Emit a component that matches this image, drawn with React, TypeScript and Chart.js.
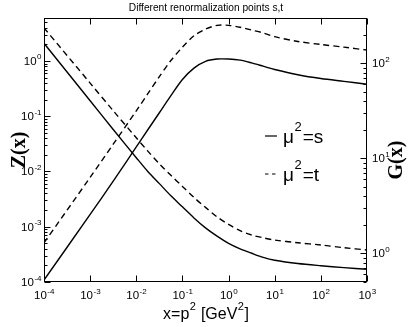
import React, { useEffect, useRef } from "react";
import { Chart, registerables } from "chart.js";
Chart.register(...registerables);

// x = p^2 [GeV^2]
const xValues = [1e-4, 1e-3, 0.003162, 0.01, 0.01778, 0.03162, 0.05623, 0.1, 0.1778, 0.3162, 0.5623, 1, 1.778, 3.162, 5.623, 10, 31.62, 100, 316.2, 1000];
// Z(x), mu^2 = s (solid) and mu^2 = t (dashed)
const zS = [2.09, 0.1905, 0.0575, 0.01778, 0.01, 0.00603, 0.00363, 0.00229, 0.001445, 0.000955, 0.000676, 0.000501, 0.000398, 0.000331, 0.000279, 0.000248, 0.000216, 0.000197, 0.000182, 0.00017];
const zT = [3.98, 0.398, 0.126, 0.0407, 0.0234, 0.0138, 0.00851, 0.00537, 0.00339, 0.00224, 0.00151, 0.0011, 0.000851, 0.000708, 0.000631, 0.000575, 0.000513, 0.000468, 0.000417, 0.00038];
// G(x), mu^2 = s (solid) and mu^2 = t (dashed)
const gS = [0.525, 2.57, 5.75, 13.2, 20.0, 30.2, 45.7, 67.6, 89.1, 105, 111, 111, 108, 101, 93.3, 86.1, 75.9, 69.2, 64.6, 60.3];
const gT = [1.29, 6.31, 14.1, 31.6, 47.9, 72.4, 107, 148, 195, 229, 251, 251, 240, 224, 209, 191, 170, 158, 148, 138];

const xTickExps = [-4, -3, -2, -1, 0, 1, 2, 3];
const zTickExps = [-4, -3, -2, -1, 0];
const gTickExps = [0, 1, 2];
const legendNames = ["s", "t"];
const titleText = "Different renormalization points s,t";
const xTitle = ["x=p", "2", " [GeV", "2", "]"];
const zTitle = "Z(x)";
const gTitle = "G(x)";

const SANS = '"Liberation Sans", Arial, sans-serif';
const SERIF = '"Liberation Serif", "Times New Roman", serif';

function drawPow(ctx: CanvasRenderingContext2D, exp: string, x: number, y: number, align: string) {
  const bf = `11.5px ${SANS}`, ef = `8px ${SANS}`;
  ctx.font = bf;
  const bw = ctx.measureText("10").width;
  ctx.font = ef;
  const ew = ctx.measureText(exp).width;
  let sx = x;
  if (align === "center") sx = x - (bw + ew) / 2;
  else if (align === "right") sx = x - bw - ew - 0.5;
  ctx.textAlign = "left";
  ctx.textBaseline = "alphabetic";
  ctx.font = bf;
  ctx.fillText("10", sx, y);
  ctx.font = ef;
  ctx.fillText(exp, sx + bw + 0.5, y - 5.5);
}

const overlay = {
  id: "overlay",
  afterDraw(chart: any) {
    const ctx: CanvasRenderingContext2D = chart.ctx;
    const { left, right, top, bottom } = chart.chartArea;
    const xs = chart.scales.x, ys = chart.scales.y, gs = chart.scales.y2;
    ctx.save();
    ctx.strokeStyle = "#000";
    ctx.fillStyle = "#000";
    ctx.lineWidth = 1;
    const L = Math.round(left) + 0.5, R = Math.round(right) - 0.5;
    const T = Math.round(top) + 0.5, B = Math.round(bottom) - 0.5;
    ctx.strokeRect(L, T, R - L, B - T);

    ctx.beginPath();
    for (const e of xTickExps) {
      const px = Math.round(xs.getPixelForValue(Math.pow(10, e))) + 0.5;
      ctx.moveTo(px, B); ctx.lineTo(px, B - 6);
      ctx.moveTo(px, T); ctx.lineTo(px, T + 6);
    }
    for (let d = -4; d <= 0; d++) {
      for (let m = 1; m <= 9; m++) {
        const v = m * Math.pow(10, d);
        if (v < ys.min * 0.999 || v > ys.max * 1.001) continue;
        const py = Math.round(ys.getPixelForValue(v)) + 0.5;
        const len = m === 1 ? 6 : 3;
        ctx.moveTo(L, py); ctx.lineTo(L + len, py);
      }
    }
    for (let d = -1; d <= 2; d++) {
      for (let m = 1; m <= 9; m++) {
        const v = m * Math.pow(10, d);
        if (v < gs.min * 0.999 || v > gs.max * 1.001) continue;
        const py = Math.round(gs.getPixelForValue(v)) + 0.5;
        const len = m === 1 ? 6 : 3;
        ctx.moveTo(R, py); ctx.lineTo(R - len, py);
      }
    }
    ctx.stroke();

    for (const e of xTickExps) {
      const px = xs.getPixelForValue(Math.pow(10, e));
      drawPow(ctx, String(e), px, bottom + 17, "center");
    }
    for (const e of zTickExps) {
      const py = ys.getPixelForValue(Math.pow(10, e));
      drawPow(ctx, String(e), left - 2.5, py + 4, "right");
    }
    for (const e of gTickExps) {
      const py = gs.getPixelForValue(Math.pow(10, e));
      drawPow(ctx, String(e), right + 5, py + 4, "left");
    }

    // title
    ctx.font = `10.2px ${SANS}`;
    ctx.textAlign = "center";
    ctx.textBaseline = "alphabetic";
    ctx.fillText(titleText, 206, 11);

    // x axis title
    const bigF = `16px ${SANS}`, supF = `11px ${SANS}`;
    let total = 0;
    const widths: number[] = [];
    xTitle.forEach((s, i) => {
      ctx.font = i % 2 === 1 ? supF : bigF;
      const w = ctx.measureText(s).width;
      widths.push(w);
      total += w + (i % 2 === 1 ? 1 : 0);
    });
    let cx = 206 - total / 2;
    ctx.textAlign = "left";
    xTitle.forEach((s, i) => {
      const sup = i % 2 === 1;
      ctx.font = sup ? supF : bigF;
      ctx.fillText(s, cx + (sup ? 0.5 : 0), sup ? 310 : 319);
      cx += widths[i] + (sup ? 1 : 0);
    });

    // y titles (rotated, reading bottom to top)
    ctx.font = `bold 20px ${SERIF}`;
    ctx.textAlign = "center";
    ctx.textBaseline = "middle";
    ctx.save();
    ctx.translate(20, 150);
    ctx.rotate(-Math.PI / 2);
    ctx.fillText(zTitle, 0, 0);
    ctx.restore();
    ctx.save();
    ctx.translate(397, 160);
    ctx.rotate(-Math.PI / 2);
    ctx.fillText(gTitle, 0, 0);
    ctx.restore();

    // legend
    const rows = [143, 181];
    legendNames.forEach((name, i) => {
      const by = rows[i];
      ctx.beginPath();
      ctx.lineWidth = 1.2;
      ctx.setLineDash(i === 0 ? [] : [3.5, 3.5]);
      ctx.moveTo(265, by - 7);
      ctx.lineTo(277, by - 7);
      ctx.stroke();
      ctx.setLineDash([]);
      ctx.textAlign = "left";
      ctx.textBaseline = "alphabetic";
      ctx.font = `19px ${SANS}`;
      let lx = 283;
      ctx.fillText("\u03bc", lx, by);
      lx += ctx.measureText("\u03bc").width + 0.5;
      ctx.font = `13px ${SANS}`;
      ctx.fillText("2", lx, by - 12);
      lx += ctx.measureText("2").width + 1;
      ctx.font = `19px ${SANS}`;
      ctx.fillText("=" + name, lx, by);
    });
    ctx.restore();
  },
};

export default function App() {
  const ref = useRef<HTMLCanvasElement | null>(null);
  useEffect(() => {
    document.body.style.margin = "0";
    const canvas = ref.current;
    if (!canvas) return;
    const pts = (ys: number[]) => xValues.map((x, i) => ({ x, y: ys[i] }));
    const chart = new Chart(canvas, {
      type: "line",
      data: {
        datasets: [
          { data: pts(zS), yAxisID: "y", borderColor: "#000", borderWidth: 1.4 },
          { data: pts(zT), yAxisID: "y", borderColor: "#000", borderWidth: 1.4, borderDash: [6, 4] },
          { data: pts(gS), yAxisID: "y2", borderColor: "#000", borderWidth: 1.4 },
          { data: pts(gT), yAxisID: "y2", borderColor: "#000", borderWidth: 1.4, borderDash: [6, 4] },
        ],
      },
      options: {
        animation: false,
        responsive: false,
        devicePixelRatio: 1,
        layout: { padding: { left: 44, top: 18, right: 42, bottom: 45 } },
        plugins: { legend: { display: false }, title: { display: false }, tooltip: { enabled: false } },
        elements: { point: { radius: 0 }, line: { tension: 0.3, fill: false } },
        scales: {
          x: { type: "logarithmic", min: 1e-4, max: 1e3, display: false },
          y: { type: "logarithmic", min: 1e-4, max: 6, display: false },
          y2: { type: "logarithmic", min: 0.5, max: 300, display: false },
        },
      },
      plugins: [overlay],
    } as any);
    return () => chart.destroy();
  }, []);
  return (
    <canvas ref={ref} width={409} height={327} style={{ display: "block", width: 409, height: 327, background: "#fff" }} />
  );
}
